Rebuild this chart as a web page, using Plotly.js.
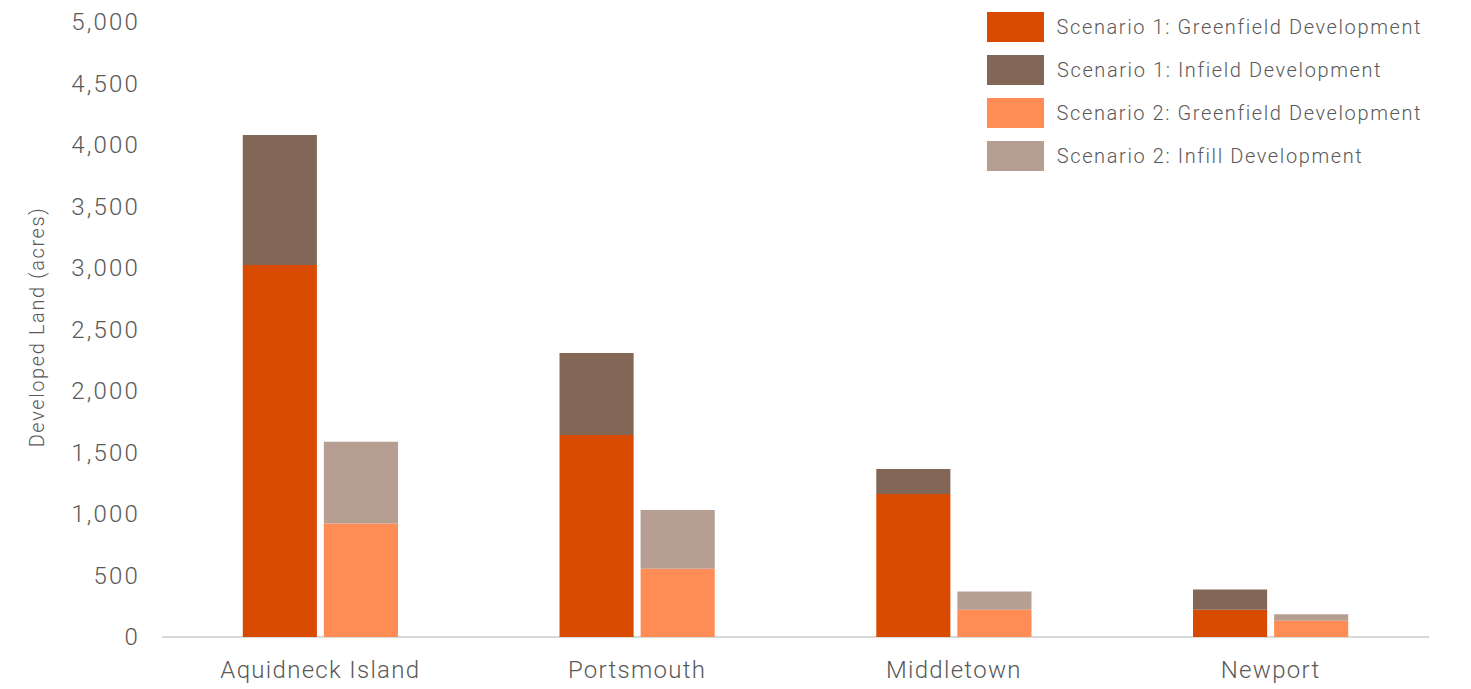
<!DOCTYPE html>
<html>
<head>
<meta charset="utf-8">
<script src="https://cdn.plot.ly/plotly-3.0.1.min.js"></script>
<style>
html,body{margin:0;padding:0;background:#fff;}
#chart{width:1471px;height:689px;}
#chart .xtick text{letter-spacing:1.3px;}
#chart .ytick text{letter-spacing:2.2px;}
#chart .annotation-text{letter-spacing:1.6px;}
</style>
</head>
<body>
<div id="chart"></div>
<script>
const categories = ["Aquidneck Island", "Portsmouth", "Middletown", "Newport"];
const s1Greenfield = [3025, 1643, 1163, 221];
const s1Infield = [1057, 666, 203, 165];
const s2Greenfield = [922, 554, 221, 132];
const s2Infill = [666, 479, 149, 53];
const seriesNames = ["Scenario 1: Greenfield Development", "Scenario 1: Infield Development", "Scenario 2: Greenfield Development", "Scenario 2: Infill Development"];
const seriesColors = ["#D84A00", "#826656", "#FF8C55", "#B79E92"];
const yTicks = [0, 500, 1000, 1500, 2000, 2500, 3000, 3500, 4000, 4500, 5000];

const FONT = "Roboto, 'Open Sans', sans-serif";
const TXT = "#595959";
const SPACING = 1.6;

function bar(name, y, base, color, group) {
  const t = {type: "bar", name: name, x: categories, y: y, offsetgroup: group,
    marker: {color: color, line: {width: 0}}, showlegend: false, hoverinfo: "name+y"};
  if (base) t.base = base;
  return t;
}
const data = [
  bar(seriesNames[0], s1Greenfield, null, seriesColors[0], "s1"),
  bar(seriesNames[1], s1Infield, s1Greenfield, seriesColors[1], "s1"),
  bar(seriesNames[2], s2Greenfield, null, seriesColors[2], "s2"),
  bar(seriesNames[3], s2Infill, s2Greenfield, seriesColors[3], "s2")
];

// plot area in pixels
const L = 162, R = 1429, T = 22, B = 637.5;
const px = x => (x - L) / (R - L);
const py = y => (B - y) / (B - T);

const shapes = [];
const annotations = [];
const rowTops = [12, 55, 98, 141];
for (let i = 0; i < seriesNames.length; i++) {
  shapes.push({type: "rect", xref: "paper", yref: "paper",
    x0: px(987), x1: px(1044), y0: py(rowTops[i] + 30), y1: py(rowTops[i]),
    fillcolor: seriesColors[i], line: {width: 0}});
  // letter-spacing widens text around its centre; offset by half the added width
  annotations.push({xref: "paper", yref: "paper", x: px(1055 + seriesNames[i].length * SPACING / 2), y: py(rowTops[i] + 15),
    xanchor: "left", yanchor: "middle", showarrow: false, text: seriesNames[i],
    font: {family: FONT, size: 20, color: TXT, weight: 300}});
}
annotations.push({xref: "paper", yref: "paper", x: px(37), y: py(327),
  xanchor: "center", yanchor: "middle", textangle: -90, showarrow: false,
  text: "Developed Land (acres)", font: {family: FONT, size: 20, color: TXT, weight: 300}});

const layout = {
  width: 1471, height: 689,
  margin: {l: L, r: 1471 - R, t: T, b: 689 - B},
  paper_bgcolor: "#fff", plot_bgcolor: "#fff",
  barmode: "group", bargap: 0.488, bargroupgap: 0.086,
  showlegend: false,
  font: {family: FONT, color: TXT, weight: 300},
  xaxis: {type: "category", showgrid: false, zeroline: false, showline: false, ticks: "",
    ticklabelstandoff: 16,
    tickfont: {family: FONT, size: 24, color: TXT, weight: 300}},
  yaxis: {range: [0, 5000], tickvals: yTicks, ticktext: yTicks.map(v => v.toLocaleString("en-US")),
    showgrid: false, zeroline: true, zerolinecolor: "#D9D9D9", zerolinewidth: 2,
    showline: false, ticks: "", ticklabelstandoff: 21,
    tickfont: {family: FONT, size: 24, color: TXT, weight: 300}},
  shapes: shapes,
  annotations: annotations
};

Plotly.newPlot("chart", data, layout, {displayModeBar: false, staticPlot: true});
</script>
</body>
</html>
